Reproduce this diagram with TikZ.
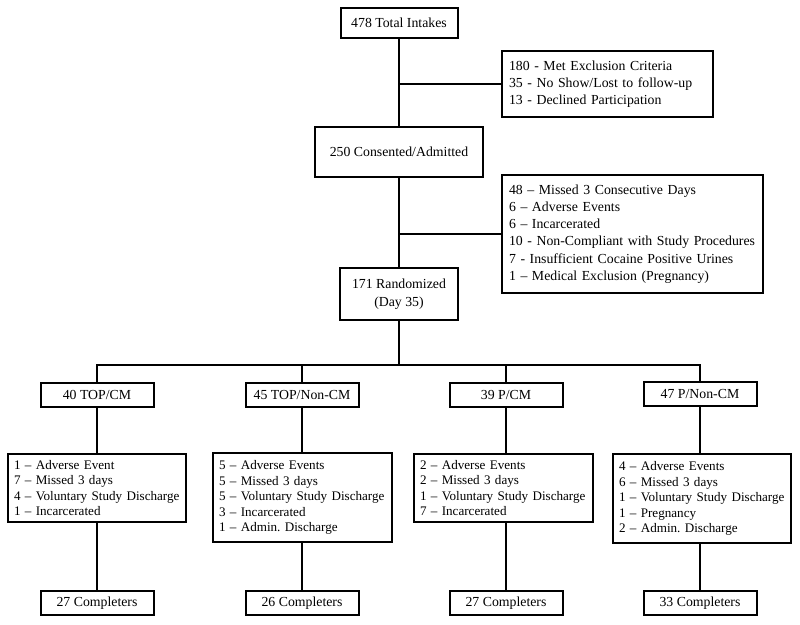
\documentclass[tikz,border=0pt]{standalone}
\usepackage{fontspec}
\setmainfont{Liberation Serif}
\frenchspacing
\begin{document}
\begin{tikzpicture}[x=1pt,y=-1pt,
  box/.style={draw=black, line width=2pt, inner sep=0pt, align=center,
    font=\fontsize{13.8}{17.5}\selectfont},
  bigl/.style={draw=black, line width=2pt, inner sep=0pt, align=left,
    font=\fontsize{13.8}{17.3}\selectfont},
  smalll/.style={draw=black, line width=2pt, inner sep=0pt, align=left,
    font=\fontsize{13.1}{15.6}\selectfont},
  conn/.style={line width=2pt}]
\useasboundingbox (0,0) rectangle (800,624);
% main column
\node[box, minimum width=117pt, minimum height=30pt] (top) at (399,23) {478 Total Intakes};
\node[bigl, minimum width=211pt, minimum height=66pt, text width=197pt] (ex1) at (607.5,84)
  {180 - Met Exclusion Criteria\\35 - No Show/Lost to follow-up\\13 - Declined Participation};
\node[box, minimum width=168pt, minimum height=50pt] (cons) at (399,152) {250 Consented/Admitted};
\node[bigl, minimum width=261pt, minimum height=118pt, text width=247pt] (ex2) at (632.5,234)
  {48 -- Missed 3 Consecutive Days\\6 -- Adverse Events\\6 -- Incarcerated\\10 - Non-Compliant with Study Procedures\\7 - Insufficient Cocaine Positive Urines\\1 -- Medical Exclusion (Pregnancy)};
\node[box, minimum width=118pt, minimum height=52pt] (rand) at (399,294) {171 Randomized\\(Day 35)};
\coordinate (bus) at (399,365);
% groups
\node[box, minimum width=113pt, minimum height=24pt] (g1) at (97,395) {40 TOP/CM};
\node[box, minimum width=113pt, minimum height=24pt] (g2) at (302,395) {45 TOP/Non-CM};
\node[box, minimum width=113pt, minimum height=24pt] (g3) at (506,395) {39 P/CM};
\node[box, minimum width=113pt, minimum height=24pt] (g4) at (700,394) {47 P/Non-CM};
% lists
\node[smalll, minimum width=178pt, minimum height=68pt, text width=166pt] (l1) at (97,488)
  {1 -- Adverse Event\\7 -- Missed 3 days\\4 -- Voluntary Study Discharge\\1 -- Incarcerated};
\node[smalll, minimum width=179pt, minimum height=89pt, text width=167pt] (l2) at (302.5,497.5)
  {5 -- Adverse Events\\5 -- Missed 3 days\\5 -- Voluntary Study Discharge\\3 -- Incarcerated\\1 -- Admin. Discharge};
\node[smalll, minimum width=179pt, minimum height=68pt, text width=167pt] (l3) at (503.5,488)
  {2 -- Adverse Events\\2 -- Missed 3 days\\1 -- Voluntary Study Discharge\\7 -- Incarcerated};
\node[smalll, minimum width=178pt, minimum height=89pt, text width=166pt] (l4) at (702,498.5)
  {4 -- Adverse Events\\6 -- Missed 3 days\\1 -- Voluntary Study Discharge\\1 -- Pregnancy\\2 -- Admin. Discharge};
% completers
\node[box, minimum width=113pt, minimum height=24pt] (c1) at (97,603) {27 Completers};
\node[box, minimum width=113pt, minimum height=24pt] (c2) at (302,603) {26 Completers};
\node[box, minimum width=113pt, minimum height=24pt] (c3) at (506,603) {27 Completers};
\node[box, minimum width=113pt, minimum height=24pt] (c4) at (700,603) {33 Completers};
% connectors
\draw[conn] (top.south) -- (cons.north);
\draw[conn] (top.south |- ex1.west) -- (ex1.west);
\draw[conn] (cons.south) -- (rand.north);
\draw[conn] (cons.south |- ex2.west) -- (ex2.west);
\draw[conn] (rand.south) -- (bus);
\draw[conn] (g1.north) -- (g1.north |- bus) -- (g4.north |- bus) -- (g4.north);
\draw[conn] (g2.north) -- (g2.north |- bus);
\draw[conn] (g3.north) -- (g3.north |- bus);
\draw[conn] (g1.south) -- (g1.south |- l1.north);
\draw[conn] (g2.south) -- (g2.south |- l2.north);
\draw[conn] (g3.south) -- (g3.south |- l3.north);
\draw[conn] (g4.south) -- (g4.south |- l4.north);
\draw[conn] (g1.south |- l1.south) -- (c1.north);
\draw[conn] (g2.south |- l2.south) -- (c2.north);
\draw[conn] (g3.south |- l3.south) -- (c3.north);
\draw[conn] (g4.south |- l4.south) -- (c4.north);
\end{tikzpicture}
\end{document}
